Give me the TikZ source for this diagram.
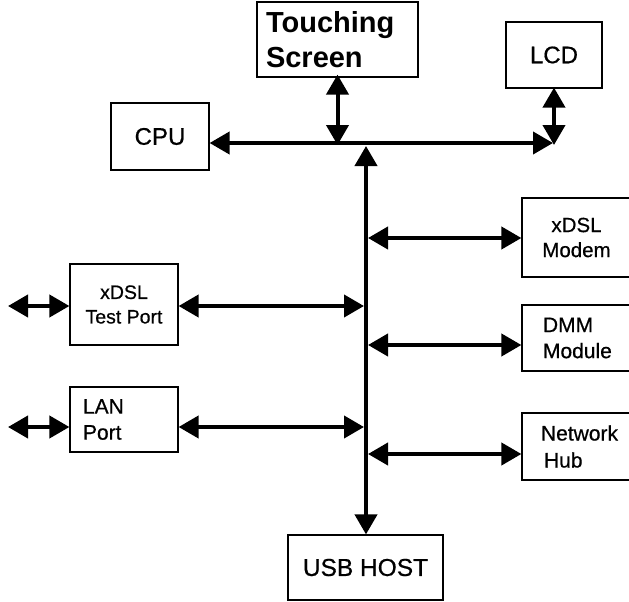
\documentclass[tikz,border=0pt]{standalone}
\usepackage{fontspec}
\setmainfont{Liberation Sans}
\newfontfamily\semib[FakeBold=0.6]{Liberation Sans}
\usetikzlibrary{arrows.meta}
\begin{document}
\begin{tikzpicture}[x=1pt,y=-1pt,
  box/.style={draw, line width=1.2pt, inner sep=0pt, anchor=center},
  bus/.style={line width=4pt, {Triangle[length=20pt,width=22pt]}-{Triangle[length=20pt,width=22pt]}}]
\useasboundingbox (0,0) rectangle (629,602);
% boxes
\node[box, minimum width=161pt, minimum height=75pt, text width=143pt, inner xsep=9pt, align=left,
      font=\fontsize{29}{35}\selectfont\bfseries] (ts) at (337.5,39.5) {Touching\\Screen};
\node[box, minimum width=96pt, minimum height=66pt, font=\fontsize{24}{28}\semib] (lcd) at (554,55) {\raisebox{-4pt}{LCD}};
\node[box, minimum width=98pt, minimum height=67pt, font=\fontsize{24}{28}\semib] (cpu) at (160,136.5) {CPU};
\node[box, minimum width=155pt, minimum height=65pt, font=\fontsize{24.5}{28}\semib] (usb) at (365.5,567.5) {USB HOST};
\node[box, minimum width=108pt, minimum height=81pt, align=center, font=\fontsize{19.5}{24.5}\semib] (tp) at (124,304.5) {xDSL\\Test Port};
\node[box, minimum width=108pt, minimum height=65pt, text width=82pt, inner xsep=13pt, align=left,
      font=\fontsize{21}{26}\semib] (lan) at (124,419.5) {LAN\\Port};
\node[box, minimum width=109pt, minimum height=79pt, align=center, font=\fontsize{20.5}{25}\semib] (modem) at (576.5,237.5) {xDSL\\Modem};
\node[box, minimum width=109pt, minimum height=66pt, text width=67pt, inner xsep=21pt, align=left,
      font=\fontsize{21}{26}\semib] (dmm) at (576.5,338) {DMM\\Module};
\node[box, minimum width=109pt, minimum height=67pt, text width=71pt, inner xsep=19pt, align=left,
      font=\fontsize{21}{27}\semib] (hub) at (576.5,446.5) {Network\\\hspace*{3pt}Hub};
% bus coordinates
\coordinate (hR) at (553,143);
\coordinate (vt) at (366,146);
\coordinate (tpL) at (8,306);
\coordinate (lanL) at (8,427);
\coordinate (tpB) at (364,306);
\coordinate (lanB) at (364,427);
\coordinate (mdB) at (368,238);
\coordinate (dmB) at (368,345);
\coordinate (hbB) at (368,454);
% connectors
\draw[bus] (cpu.east |- hR) -- (hR);
\draw[bus] ([yshift=3pt]ts.south) -- ([yshift=-2pt]ts.south |- hR);
\draw[bus] ([yshift=1pt]lcd.south) -- ([yshift=-2pt]lcd.south |- hR);
\draw[bus] (vt) -- (usb.north -| vt);
\draw[bus] (tpL) -- (tpL -| tp.west);
\draw[bus] (lanL) -- (lanL -| lan.west);
\draw[bus] (tpB -| tp.east) -- (tpB);
\draw[bus] (lanB -| lan.east) -- (lanB);
\draw[bus] (mdB) -- (mdB -| modem.west);
\draw[bus] (dmB) -- (dmB -| dmm.west);
\draw[bus] (hbB) -- (hbB -| hub.west);
\end{tikzpicture}
\end{document}
